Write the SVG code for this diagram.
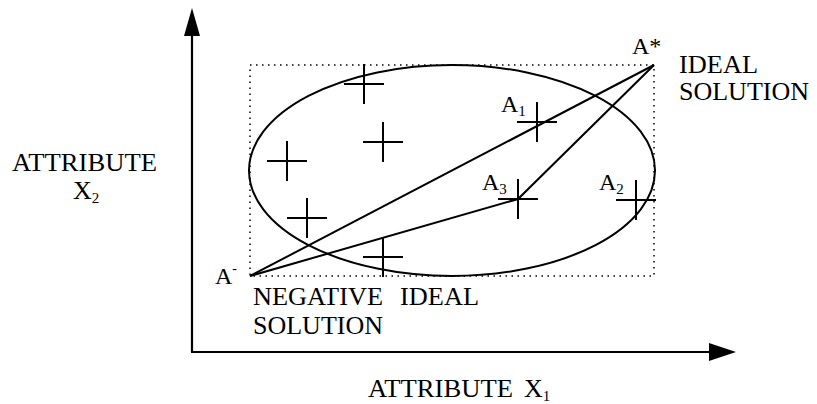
<svg xmlns="http://www.w3.org/2000/svg" xmlns:xlink="http://www.w3.org/1999/xlink" width="817" height="404" viewBox="0 0 817 404">
<style>
  .ln{stroke:#000;stroke-width:2;fill:none;stroke-linecap:butt}
  .ax{stroke:#000;stroke-width:2.2;fill:none}
  .dot{stroke:#000;stroke-width:1.5;fill:none;stroke-dasharray:1.5 4.5}
  text{font-family:'Liberation Serif','Times New Roman','DejaVu Serif','Noto Serif',serif;fill:#000}
</style>
<defs>
  <path id="cross" d="M-20 0H20M0 -20V20" stroke="#000" stroke-width="2" fill="none"/>
</defs>
<rect width="817" height="404" fill="#fff"/>

<g id="axes">
  <line class="ax" x1="192" y1="30" x2="192" y2="352"/>
  <polygon points="192,8 184,36 200,36" fill="#000"/>
  <line class="ax" x1="191" y1="352" x2="712" y2="352"/>
  <polygon points="736,352 709,343 709,361" fill="#000"/>
</g>

<g id="bounding-box">
  <rect class="dot" x="250" y="65" width="404" height="211"/>
</g>

<g id="ellipse">
  <ellipse class="ln" cx="452" cy="170.5" rx="203" ry="105.5"/>
</g>

<g id="connectors">
  <line class="ln" x1="250" y1="276" x2="654" y2="65"/>
  <polyline class="ln" points="250,276 518,199 654,65"/>
</g>

<g id="alternatives">
  <use id="p1" xlink:href="#cross" x="364" y="84"/>
  <use id="p2" xlink:href="#cross" x="383" y="142"/>
  <use id="p3" xlink:href="#cross" x="287" y="161"/>
  <use id="p4" xlink:href="#cross" x="307" y="218"/>
  <use id="p5" xlink:href="#cross" x="383" y="257"/>
  <use id="A1" xlink:href="#cross" x="537" y="122"/>
  <use id="A3" xlink:href="#cross" x="518" y="199"/>
  <use id="A2" xlink:href="#cross" x="636" y="200"/>
</g>

<g id="labels">
  <g font-size="24">
    <text x="632" y="54">A*</text>
    <text x="215" y="284">A<tspan font-size="14" dy="-11.5">-</tspan></text>
    <text x="501" y="112">A<tspan font-size="15" dy="4">1</tspan></text>
    <text x="482" y="190">A<tspan font-size="15" dy="4">3</tspan></text>
    <text x="599" y="190">A<tspan font-size="15" dy="4">2</tspan></text>
  </g>
  <g font-size="26">
    <text x="679" y="73" textLength="79" lengthAdjust="spacingAndGlyphs">IDEAL</text>
    <text x="679" y="100" textLength="130" lengthAdjust="spacingAndGlyphs">SOLUTION</text>
    <text x="253" y="305" textLength="130" lengthAdjust="spacingAndGlyphs">NEGATIVE</text>
    <text x="400" y="305" textLength="79" lengthAdjust="spacingAndGlyphs">IDEAL</text>
    <text x="253" y="334" textLength="130" lengthAdjust="spacingAndGlyphs">SOLUTION</text>
    <text x="12" y="171" textLength="145" lengthAdjust="spacingAndGlyphs">ATTRIBUTE</text>
    <text x="73" y="199">X<tspan font-size="15" dy="4">2</tspan></text>
    <text x="368" y="397" textLength="145" lengthAdjust="spacingAndGlyphs">ATTRIBUTE</text>
    <text x="524" y="397">X<tspan font-size="15" dy="4">1</tspan></text>
  </g>
</g>
</svg>
